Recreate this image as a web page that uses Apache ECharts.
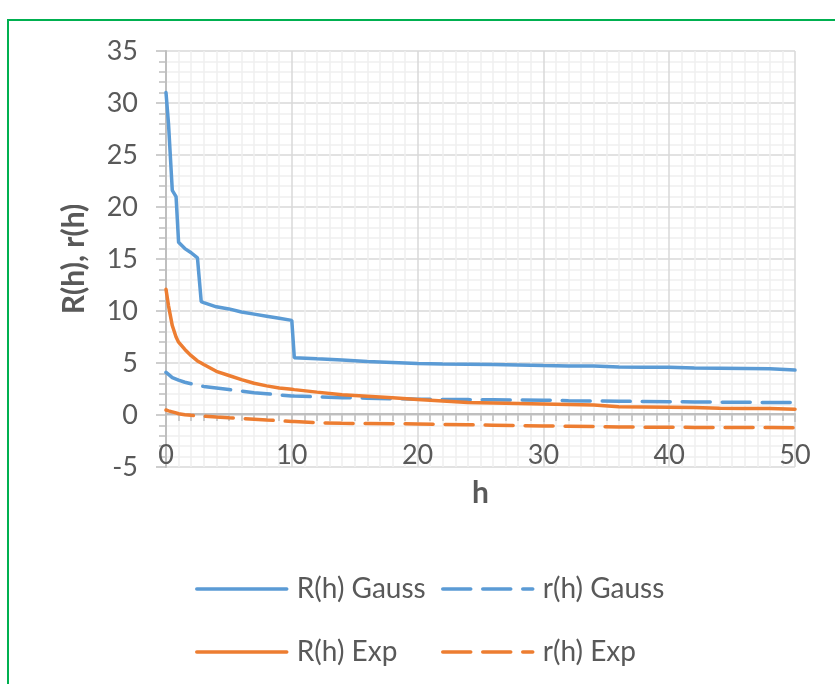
<!DOCTYPE html>
<html>
<head>
<meta charset="utf-8">
<script src="https://cdn.jsdelivr.net/npm/echarts@6/dist/echarts.min.js"></script>
<style>
html,body{margin:0;padding:0;background:#fff;}
#chart{width:835px;height:684px;}
</style>
</head>
<body>
<div id="chart"></div>
<script>
// ---- data ----
var hValues = [0, 0.2, 0.5, 0.8, 1, 1.5, 2, 2.5, 2.8, 3, 4, 5, 6, 7, 8, 9, 10, 10.2, 12, 14, 16, 18, 20, 22, 24, 26, 28, 30, 32, 34, 36, 38, 40, 42, 44, 46, 48, 50];
var RGauss = [31, 28, 21.6, 21.0, 16.6, 16.0, 15.6, 15.1, 10.9, 10.8, 10.4, 10.2, 9.9, 9.7, 9.5, 9.3, 9.1, 5.5, 5.4, 5.3, 5.15, 5.05, 4.95, 4.9, 4.88, 4.85, 4.8, 4.75, 4.72, 4.7, 4.62, 4.6, 4.58, 4.52, 4.5, 4.48, 4.45, 4.32];
var rGauss = [4.1, 3.9, 3.6, 3.45, 3.35, 3.15, 3.0, 2.85, 2.8, 2.75, 2.6, 2.45, 2.3, 2.15, 2.05, 1.93, 1.83, 1.82, 1.75, 1.67, 1.62, 1.57, 1.52, 1.5, 1.48, 1.46, 1.44, 1.42, 1.38, 1.35, 1.32, 1.3, 1.28, 1.26, 1.24, 1.22, 1.21, 1.19];
var RExp = [12.1, 10.5, 8.6, 7.5, 7.0, 6.3, 5.7, 5.2, 5.0, 4.85, 4.2, 3.8, 3.4, 3.05, 2.8, 2.6, 2.47, 2.44, 2.2, 1.95, 1.8, 1.65, 1.5, 1.35, 1.2, 1.15, 1.1, 1.05, 1.0, 0.95, 0.8, 0.78, 0.75, 0.72, 0.65, 0.63, 0.62, 0.55];
var rExp = [0.48, 0.4, 0.3, 0.2, 0.12, 0.03, -0.03, -0.08, -0.1, -0.12, -0.2, -0.27, -0.33, -0.4, -0.48, -0.55, -0.62, -0.63, -0.74, -0.8, -0.82, -0.84, -0.86, -0.9, -0.94, -0.98, -1.02, -1.06, -1.08, -1.1, -1.15, -1.17, -1.18, -1.19, -1.2, -1.21, -1.21, -1.22];
var seriesNames = ['R(h) Gauss', 'r(h) Gauss', 'R(h) Exp', 'r(h) Exp'];
var xAxisTitle = 'h';
var yAxisTitle = 'R(h), r(h)';

function pairs(ys) { return hValues.map(function (h, i) { return [h, ys[i]]; }); }

var FONT = 'Lato, "Open Sans", sans-serif';
var BLUE = '#5B9BD5', ORANGE = '#ED7D31';
var DASH = [28, 12];
var LW = 3.5;

function mkSeries(name, ys, color, dashed) {
  return {
    name: name, type: 'line', data: pairs(ys), symbol: 'none', smooth: false,
    lineStyle: { color: color, width: LW, type: dashed ? DASH : 'solid', cap: 'round' },
    itemStyle: { color: color }, animation: false
  };
}

function mkLegend(name, left, top) {
  return {
    data: [name], left: left, top: top, padding: 0, itemWidth: 90, itemHeight: 2,
    selectedMode: false,
    lineStyle: { width: LW },
    textStyle: { fontFamily: FONT, fontSize: 28, color: '#595959', padding: [0, 0, 0, 5] }
  };
}

var chart = echarts.init(document.getElementById('chart'), null, { renderer: 'canvas' });
chart.setOption({
  animation: false,
  backgroundColor: '#ffffff',
  grid: { left: 166, right: 40, top: 51, bottom: 217 },
  xAxis: {
    type: 'value', min: 0, max: 50, interval: 10,
    offset: -53, // the horizontal axis crosses the vertical one at 0 (-5..35 range)
    name: xAxisTitle, nameLocation: 'middle', nameGap: 64,
    nameTextStyle: { fontFamily: FONT, fontSize: 30, fontWeight: 'bold', color: '#595959' },
    axisLine: { onZero: false, lineStyle: { color: '#BFBFBF', width: 2 } },
    axisTick: { show: true, length: 8, lineStyle: { color: '#BFBFBF', width: 1.5 } },
    minorTick: { show: true, splitNumber: 10, length: 7, lineStyle: { color: '#BFBFBF', width: 1.5 } },
    axisLabel: { fontFamily: FONT, fontSize: 27, color: '#595959', margin: 28 },
    splitLine: { show: true, lineStyle: { color: '#D9D9D9', width: 1.5 } },
    minorSplitLine: { show: true, lineStyle: { color: '#F0F0F0', width: 1.5 } }
  },
  yAxis: {
    type: 'value', min: -5, max: 35, interval: 5,
    name: yAxisTitle, nameLocation: 'middle', nameGap: 77,
    nameTextStyle: { fontFamily: FONT, fontSize: 30, fontWeight: 'bold', color: '#595959' },
    axisLine: { show: true, onZero: false, lineStyle: { color: '#BFBFBF', width: 2 } },
    axisTick: { show: true, length: 10, lineStyle: { color: '#BFBFBF', width: 1.5 } },
    minorTick: { show: true, splitNumber: 5, length: 7, lineStyle: { color: '#BFBFBF', width: 1.5 } },
    axisLabel: { fontFamily: FONT, fontSize: 27, color: '#595959', margin: 28 },
    splitLine: { show: true, lineStyle: { color: '#D9D9D9', width: 1.5 } },
    minorSplitLine: { show: true, lineStyle: { color: '#F0F0F0', width: 1.5 } }
  },
  legend: [
    mkLegend(seriesNames[0], 195, 575),
    mkLegend(seriesNames[1], 441, 575),
    mkLegend(seriesNames[2], 195, 638),
    mkLegend(seriesNames[3], 441, 638)
  ],
  graphic: [{
    type: 'rect', silent: true, z: 100,
    shape: { x: 8, y: 20, width: 900, height: 900 },
    style: { fill: 'none', stroke: '#00B050', lineWidth: 2 }
  }],
  series: [
    mkSeries(seriesNames[0], RGauss, BLUE, false),
    mkSeries(seriesNames[1], rGauss, BLUE, true),
    mkSeries(seriesNames[2], RExp, ORANGE, false),
    mkSeries(seriesNames[3], rExp, ORANGE, true)
  ]
});
</script>
</body>
</html>
